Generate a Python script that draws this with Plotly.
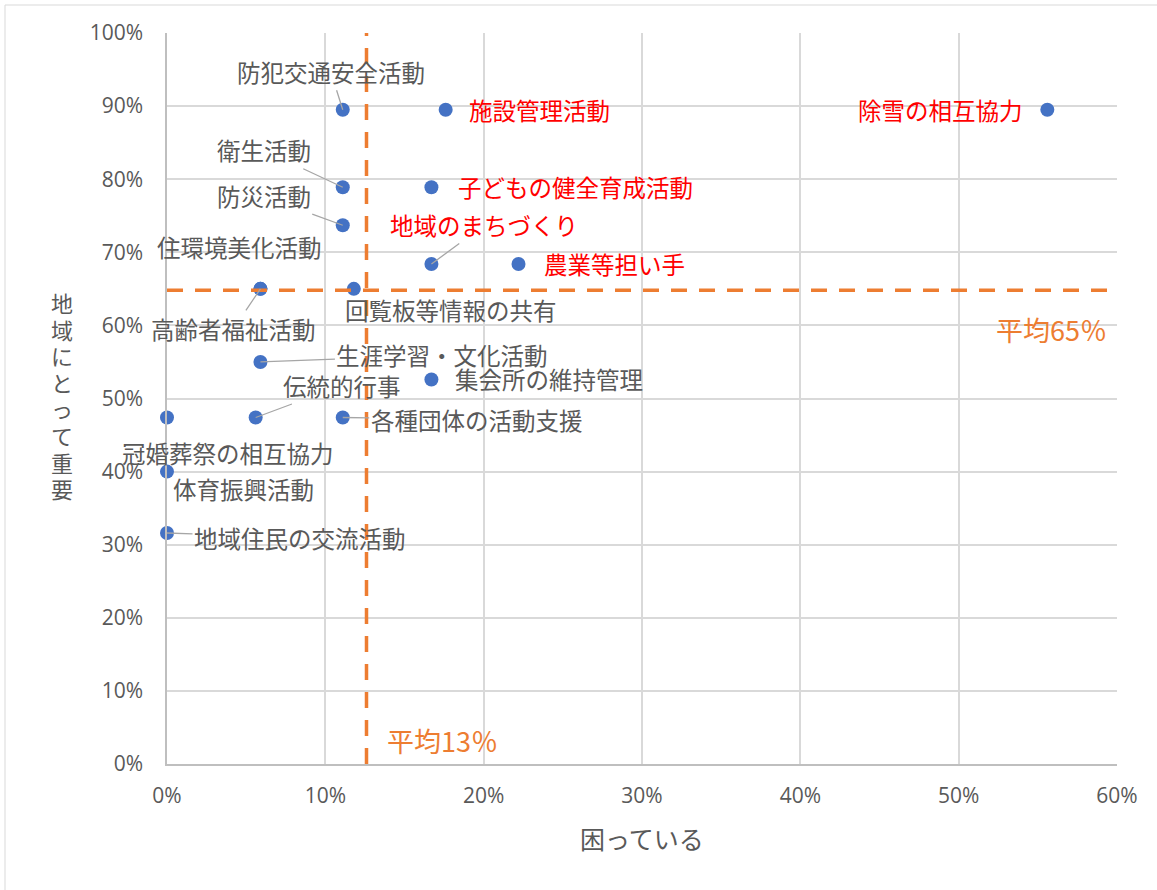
import plotly.graph_objects as go

# ---- data ----
activities = ["防犯交通安全活動", "施設管理活動", "除雪の相互協力", "衛生活動",
              "子どもの健全育成活動", "防災活動", "地域のまちづくり", "農業等担い手",
              "住環境美化活動", "高齢者福祉活動", "回覧板等情報の共有", "生涯学習・文化活動",
              "集会所の維持管理", "伝統的行事", "各種団体の活動支援", "冠婚葬祭の相互協力",
              "体育振興活動", "地域住民の交流活動"]
troubled = [11.1, 17.6, 55.6, 11.1, 16.7, 11.1, 16.7, 22.2, 5.9, 5.9, 11.8, 5.9,
            16.7, 5.6, 11.1, 0.0, 0.0, 0.0]
important = [89.5, 89.5, 89.5, 78.9, 78.9, 73.7, 68.4, 68.4, 65.0, 65.0, 65.0, 55.0,
             52.6, 47.4, 47.4, 47.4, 40.0, 31.6]
avg_troubled = 12.6
avg_important = 64.8
avg_troubled_label = "平均13％"
avg_important_label = "平均65％"
x_title = "困っている"
y_title = "地域にとって重要"
x_ticks = [0, 10, 20, 30, 40, 50, 60]
y_ticks = [0, 10, 20, 30, 40, 50, 60, 70, 80, 90, 100]

# ---- label placement (pixel offsets, leader line) ----
label_style = {
    "防犯交通安全活動": (-12, -38, True),
    "施設管理活動": (94, 0, False),
    "除雪の相互協力": (-107, 0, False),
    "衛生活動": (-79, -37, True),
    "子どもの健全育成活動": (144, 0, False),
    "防災活動": (-79, -29, True),
    "地域のまちづくり": (53, -39, True),
    "農業等担い手": (96, 0, False),
    "住環境美化活動": (-21, -42, False),
    "高齢者福祉活動": (-27, 40, True),
    "回覧板等情報の共有": (97, 21, False),
    "生涯学習・文化活動": (182, -7, True),
    "集会所の維持管理": (118, 0, False),
    "伝統的行事": (86, -32, True),
    "各種団体の活動支援": (134, 2, True),
    "冠婚葬祭の相互協力": (61, 35, False),
    "体育振興活動": (76, 17, False),
    "地域住民の交流活動": (133, 5, True),
}

JP = "Noto Sans CJK JP"
GRAY = "#595959"
ORANGE = "#ED7D31"

W, H = 1157, 890
L, R, T, B = 167, 40, 33, 126
PW, PH = W - L - R, H - T - B

fig = go.Figure()
fig.add_trace(go.Scatter(
    x=troubled, y=important, mode="markers",
    marker=dict(size=14, color="#4472C4"),
    cliponaxis=False, hoverinfo="skip", showlegend=False))

annotations = []
for name, xv, yv in zip(activities, troubled, important):
    ax, ay, leader = label_style[name]
    red = xv > avg_troubled and yv > avg_important
    annotations.append(dict(
        x=xv, y=yv, xref="x", yref="y", text=name,
        showarrow=True, ax=ax, ay=ay, arrowhead=0, standoff=0,
        arrowwidth=1.3,
        arrowcolor="#A6A6A6" if leader else "rgba(0,0,0,0)",
        font=dict(family=JP, size=23.5, color="#FF0000" if red else GRAY),
    ))

# average labels
annotations.append(dict(x=60, y=59.4, xref="x", yref="y", text=avg_important_label,
                        showarrow=False, xanchor="right", yanchor="middle", xshift=-8,
                        font=dict(family=JP, size=27, color=ORANGE)))
annotations.append(dict(x=avg_troubled, y=3.2, xref="x", yref="y", text=avg_troubled_label,
                        showarrow=False, xanchor="left", yanchor="middle", xshift=18,
                        font=dict(family=JP, size=27, color=ORANGE)))

# axis titles
annotations.append(dict(x=(642 - L) / PW, y=(H - B - 838) / PH, xref="paper", yref="paper",
                        text=x_title, showarrow=False, xanchor="center", yanchor="middle",
                        font=dict(family=JP, size=25, color=GRAY)))
for i, ch in enumerate(y_title):
    py = 302 + i * 26.6
    annotations.append(dict(x=(62 - L) / PW, y=(H - B - py) / PH, xref="paper", yref="paper",
                            text=ch, showarrow=False, xanchor="center", yanchor="middle",
                            width=26, height=26, borderpad=0,
                            font=dict(family=JP, size=22, color=GRAY)))

shapes = [
    dict(type="line", xref="x", yref="y", x0=avg_troubled, x1=avg_troubled, y0=0, y1=100,
         line=dict(color=ORANGE, width=3.5, dash="16px,12px")),
    dict(type="line", xref="x", yref="y", x0=0, x1=60, y0=avg_important, y1=avg_important,
         line=dict(color=ORANGE, width=3.5, dash="16px,12px")),
    dict(type="rect", xref="paper", yref="paper",
         x0=(5 - L) / PW, x1=(W + 5 - L) / PW,
         y0=(H - B - (H + 5)) / PH, y1=(H - B - 5) / PH,
         line=dict(color="#D9D9D9", width=1), layer="below"),
]

tickfont = dict(family="Open Sans", size=21, color=GRAY)
fig.update_layout(
    width=W, height=H, autosize=False,
    margin=dict(l=L, r=R, t=T, b=B),
    paper_bgcolor="white", plot_bgcolor="white",
    xaxis=dict(range=[0, 60], tickvals=x_ticks, ticktext=[f"{v}%" for v in x_ticks],
               showgrid=True, gridcolor="#D9D9D9", gridwidth=1.5,
               showline=True, linecolor="#BFBFBF", linewidth=1.5,
               zeroline=False, ticks="", tickfont=tickfont, ticklabelstandoff=12),
    yaxis=dict(range=[0, 100], tickvals=y_ticks, ticktext=[f"{v}%" for v in y_ticks],
               showgrid=True, gridcolor="#D9D9D9", gridwidth=1.5,
               showline=True, linecolor="#BFBFBF", linewidth=1.5,
               zeroline=False, ticks="", tickfont=tickfont, ticklabelstandoff=18),
    annotations=annotations, shapes=shapes,
)

fig.write_html("out.html", config={"displayModeBar": False},
               post_script="document.body.style.margin='0';document.body.style.overflow='hidden';")
